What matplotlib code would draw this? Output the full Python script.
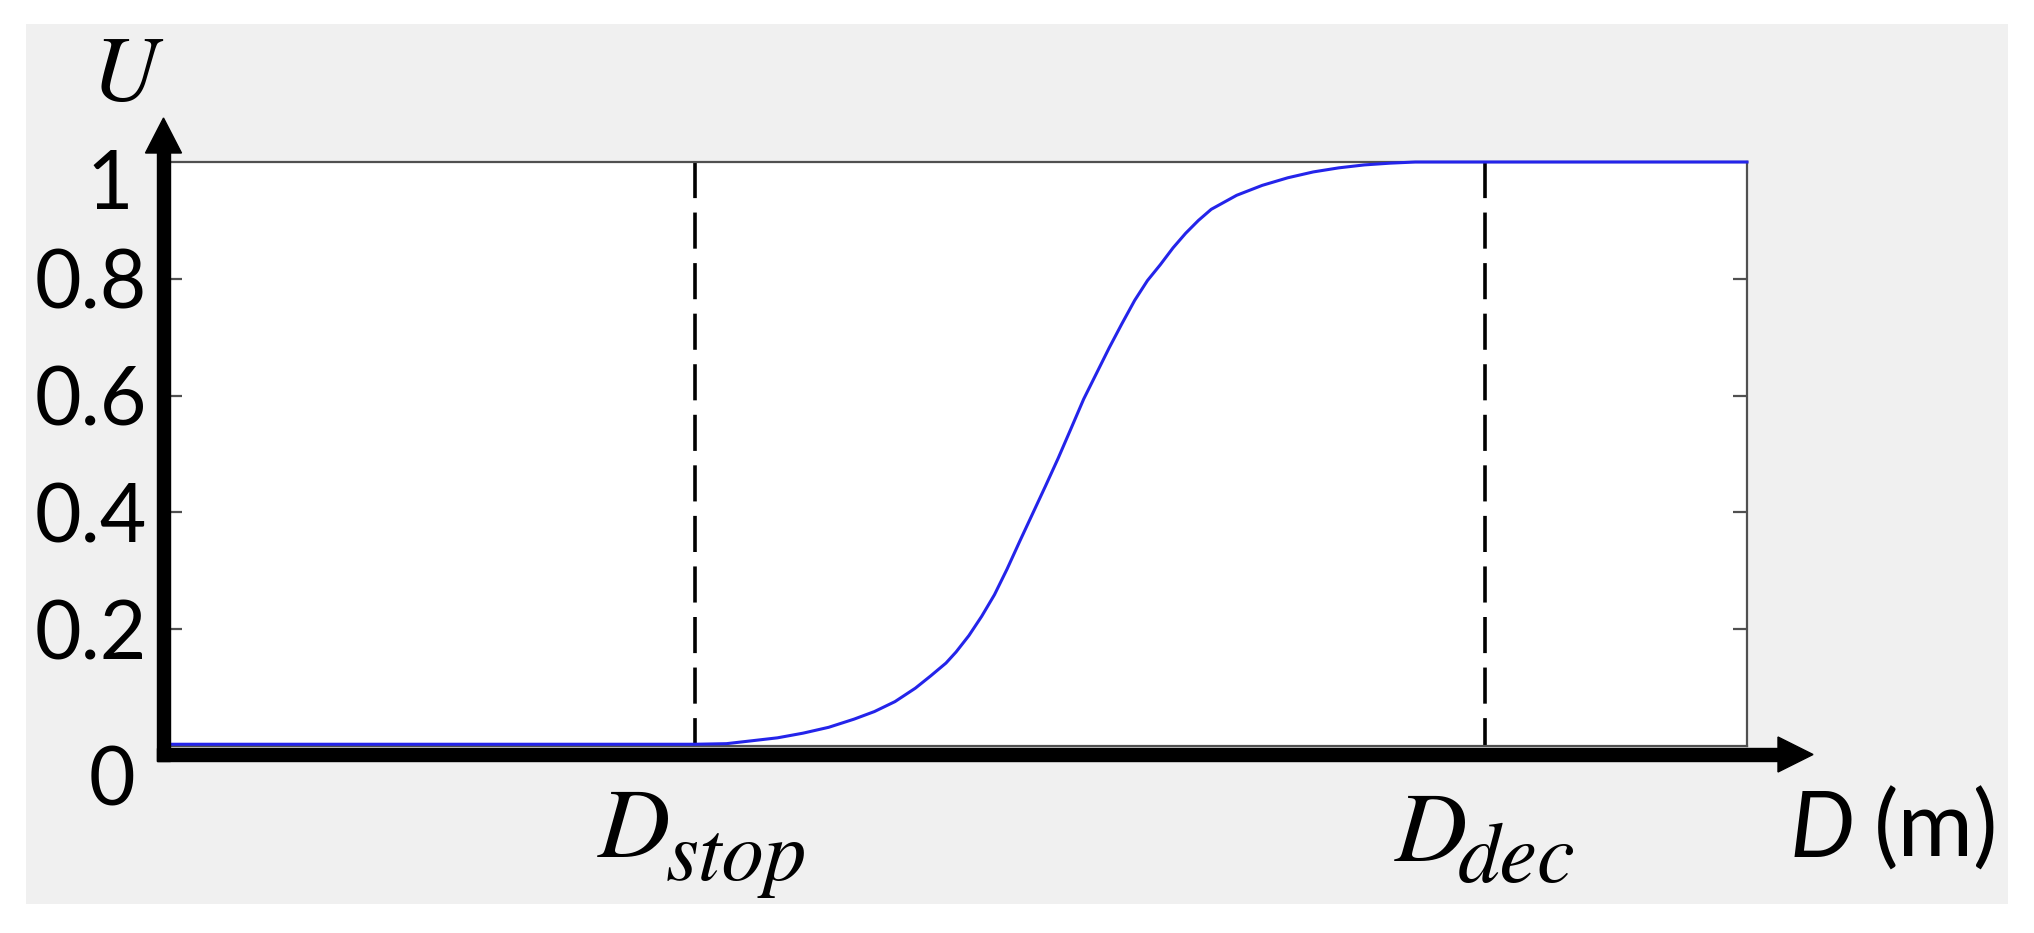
import matplotlib
matplotlib.use("Agg")
import matplotlib.pyplot as plt
from matplotlib.patches import Polygon, Rectangle

# ---- data ----
D_values = [0, 33.37, 35.37, 36.99, 38.60, 40.22, 41.84, 43.45, 44.74, 46.04, 47.33,
            48.30, 49.27, 49.91, 50.72, 51.53, 52.34, 53.14, 53.95, 54.76, 55.57,
            56.38, 57.18, 57.99, 58.80, 59.61, 60.41, 61.22, 62.03, 62.84, 63.65,
            64.45, 65.26, 66.07, 67.68, 69.30, 70.92, 72.53, 74.15, 75.76, 77.38,
            78.99, 100]
U_values = [0.003, 0.003, 0.004, 0.009, 0.014, 0.022, 0.032, 0.046, 0.059, 0.076, 0.099,
            0.120, 0.142, 0.161, 0.189, 0.222, 0.259, 0.303, 0.351, 0.398, 0.445,
            0.493, 0.543, 0.594, 0.638, 0.682, 0.723, 0.763, 0.797, 0.824, 0.853,
            0.878, 0.900, 0.919, 0.943, 0.960, 0.973, 0.983, 0.990, 0.995, 0.998,
            1.0, 1.0]
D_stop = 33.4
D_dec = 83.4
y_ticks = [0.2, 0.4, 0.6, 0.8]
y_tick_labels = ["0.2", "0.4", "0.6", "0.8"]

W, H = 2034, 933
fig = plt.figure(figsize=(W / 100, H / 100), dpi=100)
fig.patch.set_facecolor("white")


def P(x, y):
    return (x / W, 1 - y / H)


# gray panel
fig.add_artist(Rectangle(P(26, 904), (2008 - 26) / W, (904 - 24) / H,
                         transform=fig.transFigure, facecolor="#f0f0f0",
                         edgecolor="none", zorder=0))

L, R, T, B = 168, 1747, 162, 746
ax = fig.add_axes([L / W, 1 - B / H, (R - L) / W, (B - T) / H])
ax.set_facecolor("white")
ax.set_xlim(0, 100)
ax.set_ylim(0, 1)
gray = "#505050"
for s in ax.spines.values():
    s.set_color(gray)
    s.set_linewidth(1.6)

ax.set_xticks([])
ax.set_yticks(y_ticks)
ax.set_yticklabels(y_tick_labels, fontsize=58, family="Lato")
ax.tick_params(axis="y", direction="in", length=10, width=1.6, color=gray,
               left=True, right=True, pad=15)

# curve
ax.plot(D_values, U_values, color="#2424ea", lw=2.2, clip_on=False, zorder=3,
        solid_joinstyle="round")
# dashed markers
for xv in (D_stop, D_dec):
    ax.plot([xv, xv], [1, 0], color="black", lw=2.6, dashes=(10, 4), zorder=2)

# thick arrows
k = "black"
fig.add_artist(Rectangle(P(157, 761), 13 / W, (761 - 150) / H,
                         transform=fig.transFigure, color=k, zorder=5))
fig.add_artist(Polygon([P(145.5, 153), P(181.5, 153), P(163.5, 118)],
                       transform=fig.transFigure, color=k, zorder=5))
fig.add_artist(Rectangle(P(157, 761), (1781 - 157) / W, 13 / H,
                         transform=fig.transFigure, color=k, zorder=5))
fig.add_artist(Polygon([P(1778, 737), P(1778, 772), P(1813, 754.5)],
                       transform=fig.transFigure, color=k, zorder=5))

# y labels at 1 and 0
fig.text(*P(133, 209), "1", fontsize=58, family="Lato", ha="right", va="baseline")
fig.text(*P(135, 805), "0", fontsize=58, family="Lato", ha="right", va="baseline")

# axis titles
fig.text(*P(92, 100), "U", fontsize=67, family="STIXGeneral", style="italic",
         va="baseline", ha="left")
fig.text(*P(598, 857), "D", fontsize=72, family="STIXGeneral", style="italic",
         va="baseline", ha="left")
fig.text(*P(666, 880), "stop", fontsize=61, family="STIXGeneral", style="italic",
         va="baseline", ha="left")
fig.text(*P(1395, 861), "D", fontsize=72, family="STIXGeneral", style="italic",
         va="baseline", ha="left")
fig.text(*P(1458, 882), "dec", fontsize=61, family="STIXGeneral", style="italic",
         va="baseline", ha="left")
fig.text(*P(1790, 857), "D", fontsize=66, family="Lato", style="italic",
         va="baseline", ha="left")
fig.text(*P(1874, 857), "(m)", fontsize=66, family="Lato",
         va="baseline", ha="left")

fig.savefig("out.png", dpi=100, facecolor="white")
